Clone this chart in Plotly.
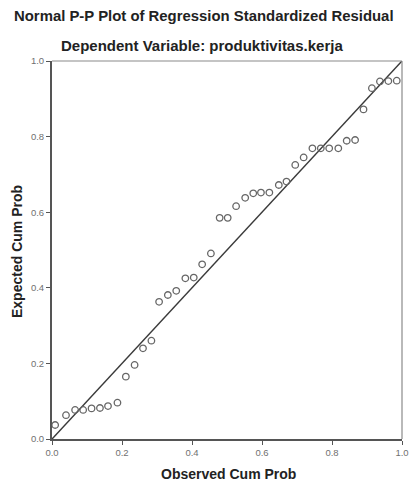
import plotly.graph_objects as go

observed = [0.009, 0.040, 0.066, 0.089, 0.113, 0.137, 0.160, 0.187, 0.211, 0.236,
            0.260, 0.284, 0.306, 0.331, 0.355, 0.381, 0.405, 0.429, 0.454, 0.479,
            0.502, 0.526, 0.552, 0.575, 0.597, 0.621, 0.648, 0.670, 0.695, 0.719,
            0.744, 0.768, 0.792, 0.818, 0.842, 0.866, 0.890, 0.914, 0.937, 0.961, 0.985]
expected = [0.037, 0.063, 0.077, 0.077, 0.081, 0.082, 0.087, 0.096, 0.165, 0.196,
            0.240, 0.260, 0.363, 0.381, 0.392, 0.425, 0.427, 0.462, 0.491, 0.585,
            0.585, 0.616, 0.638, 0.650, 0.652, 0.652, 0.672, 0.681, 0.725, 0.745,
            0.769, 0.769, 0.769, 0.769, 0.789, 0.791, 0.872, 0.928, 0.946, 0.947, 0.948]
ref_line = [0.0, 1.0]
tick_vals = [0.0, 0.2, 0.4, 0.6, 0.8, 1.0]
tick_text = ["0.0", "0.2", "0.4", "0.6", "0.8", "1.0"]

title1 = "Normal P-P Plot of Regression Standardized Residual"
title2 = "Dependent Variable: produktivitas.kerja"
x_title = "Observed Cum Prob"
y_title = "Expected Cum Prob"

FONT = "Liberation Sans, Arial, sans-serif"

fig = go.Figure()
fig.add_trace(go.Scatter(x=ref_line, y=ref_line, mode="lines",
                         line=dict(color="#3a3a3a", width=1.5),
                         hoverinfo="skip", showlegend=False, cliponaxis=False))
fig.add_trace(go.Scatter(x=observed, y=expected, mode="markers",
                         marker=dict(symbol="circle-open", size=6.5,
                                     color="#666666", line=dict(width=1.3, color="#666666")),
                         showlegend=False, cliponaxis=False))

axis_common = dict(range=[0, 1], tickvals=tick_vals, ticktext=tick_text,
                   showgrid=False, zeroline=False, showline=True,
                   linecolor="#555555", linewidth=2, ticks="outside",
                   ticklen=4, tickwidth=1.2, tickcolor="#555555",
                   tickfont=dict(family=FONT, size=9.5, color="#707070"),
                   mirror=False, automargin=False)

fig.update_xaxes(**axis_common)
fig.update_yaxes(**axis_common)

# light top/right frame
fig.add_shape(type="line", xref="paper", yref="paper", x0=0, x1=1, y0=1, y1=1,
              line=dict(color="#8a8a8a", width=1.2))
fig.add_shape(type="line", xref="paper", yref="paper", x0=1, x1=1, y0=0, y1=1,
              line=dict(color="#8a8a8a", width=1.2))

L, R, T, B = 52, 7, 61, 45
W, H = 409 - L - R, 484 - T - B


def px(xp):
    return (xp - L) / W


def py(yp):
    return (484 - B - yp) / H


fig.add_annotation(text="<b>" + title1 + "</b>", xref="paper", yref="paper",
                   x=px(204), y=py(16), xanchor="center", yanchor="middle",
                   showarrow=False, font=dict(family=FONT, size=14.9, color="#222222"))
fig.add_annotation(text="<b>" + title2 + "</b>", xref="paper", yref="paper",
                   x=px(202), y=py(46), xanchor="center", yanchor="middle",
                   showarrow=False, font=dict(family=FONT, size=15, color="#222222"))
fig.add_annotation(text="<b>" + x_title + "</b>", xref="paper", yref="paper",
                   x=px(229), y=py(474), xanchor="center", yanchor="middle",
                   showarrow=False, font=dict(family=FONT, size=14, color="#222222"))
fig.add_annotation(text="<b>" + y_title + "</b>", xref="paper", yref="paper",
                   x=px(17), y=py(252), xanchor="center", yanchor="middle",
                   textangle=-90, showarrow=False,
                   font=dict(family=FONT, size=14, color="#222222"))

fig.update_layout(width=409, height=484,
                  margin=dict(l=L, r=R, t=T, b=B, autoexpand=False),
                  paper_bgcolor="white", plot_bgcolor="white",
                  font=dict(family=FONT))

fig.write_html("out.html", config={"displayModeBar": False},
               post_script="document.body.style.margin='0';document.body.style.overflow='hidden';")
